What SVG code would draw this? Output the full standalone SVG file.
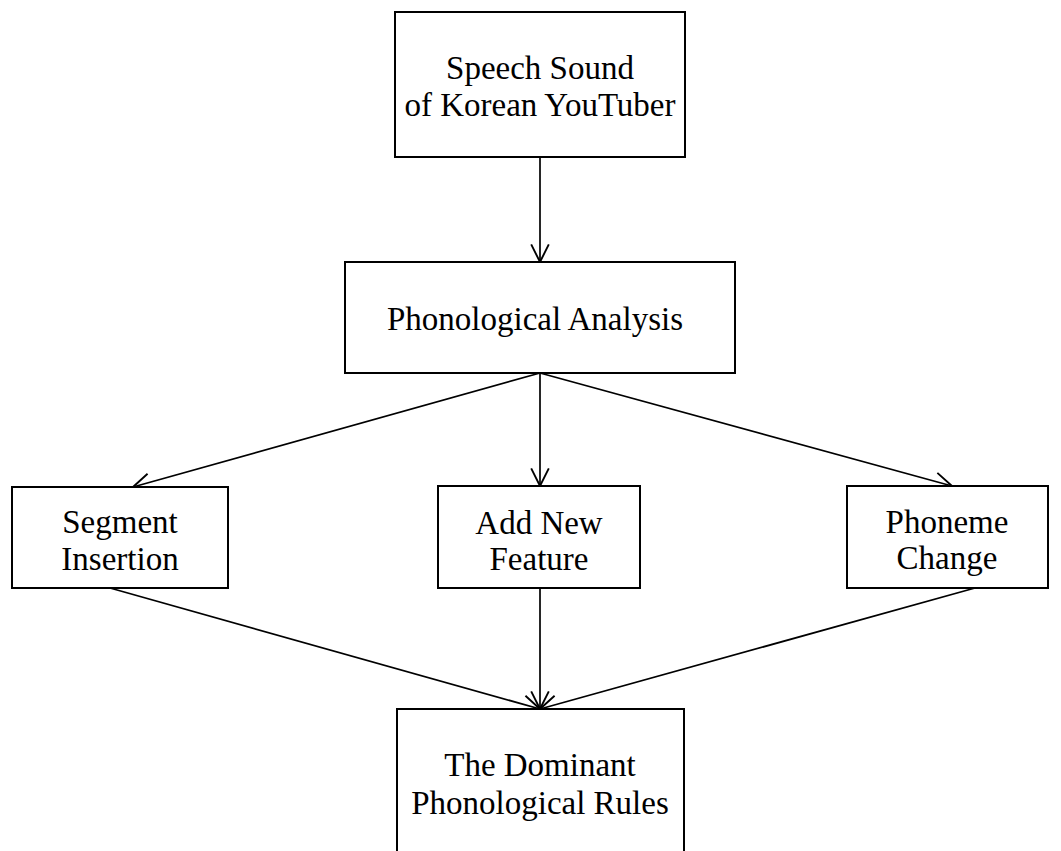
<svg xmlns="http://www.w3.org/2000/svg" width="1061" height="851" viewBox="0 0 1061 851">
<defs>
<style>
.box{fill:#fff;stroke:#000;stroke-width:2}
.t{font-family:"Liberation Serif","Times New Roman",serif;font-size:33px;fill:#000;text-anchor:middle}
.c{fill:none;stroke:#000;stroke-width:1.7}
</style>
<marker id="ah" markerWidth="22" markerHeight="22" viewBox="-18 -10 20 20" refX="0" refY="0" orient="auto" markerUnits="userSpaceOnUse">
<path d="M-16,-8 L0,0 L-16,8" fill="none" stroke="#000" stroke-width="1.7"/>
</marker>
</defs>
<rect width="1061" height="851" fill="#fff"/>
<g id="connectors">
<line class="c" x1="540" y1="157" x2="540" y2="262" marker-end="url(#ah)"/>
<line class="c" x1="540" y1="373" x2="133" y2="487" marker-end="url(#ah)"/>
<line class="c" x1="540" y1="373" x2="540" y2="486" marker-end="url(#ah)"/>
<line class="c" x1="540" y1="373" x2="952" y2="486" marker-end="url(#ah)"/>
<line class="c" x1="110" y1="588" x2="540" y2="709" marker-end="url(#ah)"/>
<line class="c" x1="540" y1="588" x2="540" y2="709" marker-end="url(#ah)"/>
<line class="c" x1="975" y1="588" x2="540" y2="709" marker-end="url(#ah)"/>
</g>
<g id="speech-sound">
<rect class="box" x="395" y="12" width="290" height="145"/>
<text class="t" x="540" y="79">Speech Sound</text>
<text class="t" x="540" y="116">of Korean YouTuber</text>
</g>
<g id="phonological-analysis">
<rect class="box" x="345" y="262" width="390" height="111"/>
<text class="t" x="535" y="330">Phonological Analysis</text>
</g>
<g id="segment-insertion">
<rect class="box" x="12" y="487" width="216" height="101"/>
<text class="t" x="120" y="533">Segment</text>
<text class="t" x="120" y="570">Insertion</text>
</g>
<g id="add-new-feature">
<rect class="box" x="438" y="486" width="202" height="102"/>
<text class="t" x="539" y="534">Add New</text>
<text class="t" x="539" y="570">Feature</text>
</g>
<g id="phoneme-change">
<rect class="box" x="847" y="486" width="201" height="102"/>
<text class="t" x="947" y="533">Phoneme</text>
<text class="t" x="947" y="569">Change</text>
</g>
<g id="dominant-rules">
<rect class="box" x="397" y="709" width="287" height="160"/>
<text class="t" x="540" y="776">The Dominant</text>
<text class="t" x="540" y="814">Phonological Rules</text>
</g>
</svg>
